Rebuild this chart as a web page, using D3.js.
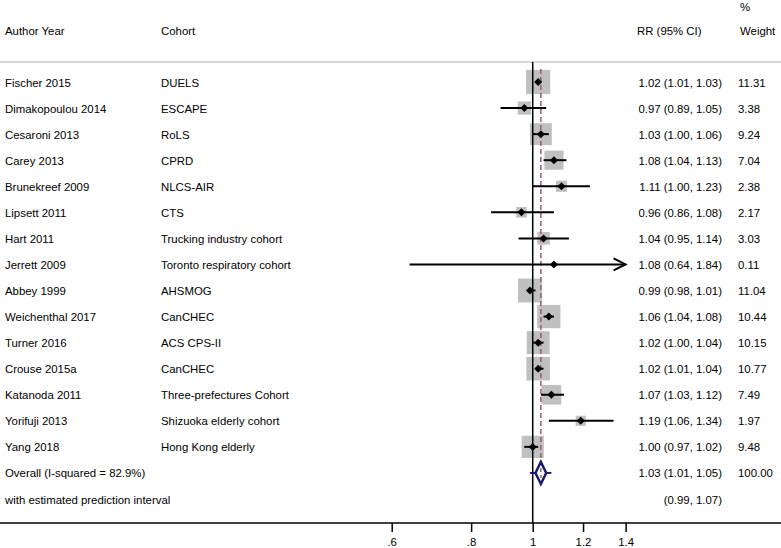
<!DOCTYPE html>
<html>
<head>
<meta charset="utf-8">
<script src="https://cdn.jsdelivr.net/npm/d3@7"></script>
<style>
  body { margin: 0; background: #fff; }
  svg text { font-family: "Liberation Sans", Arial, Helvetica, sans-serif; font-size: 11.4px; fill: #000; }
</style>
</head>
<body>
<div id="chart"></div>
<script>
// study rows, top to bottom
var authors = ["Fischer 2015", "Dimakopoulou 2014", "Cesaroni 2013", "Carey 2013", "Brunekreef 2009",
    "Lipsett 2011", "Hart 2011", "Jerrett 2009", "Abbey 1999", "Weichenthal 2017", "Turner 2016",
    "Crouse 2015a", "Katanoda 2011", "Yorifuji 2013", "Yang 2018"];
var cohorts = ["DUELS", "ESCAPE", "RoLS", "CPRD", "NLCS-AIR", "CTS", "Trucking industry cohort",
    "Toronto respiratory cohort", "AHSMOG", "CanCHEC", "ACS CPS-II", "CanCHEC",
    "Three-prefectures Cohort", "Shizuoka elderly cohort", "Hong Kong elderly"];
var rr = [1.02, 0.97, 1.03, 1.08, 1.11, 0.96, 1.04, 1.08, 0.99, 1.06, 1.02, 1.02, 1.07, 1.19, 1.00];
var lower = [1.01, 0.89, 1.00, 1.04, 1.00, 0.86, 0.95, 0.64, 0.98, 1.04, 1.00, 1.01, 1.03, 1.06, 0.97];
var upper = [1.03, 1.05, 1.06, 1.13, 1.23, 1.08, 1.14, 1.84, 1.01, 1.08, 1.04, 1.04, 1.12, 1.34, 1.02];
var weights = [11.31, 3.38, 9.24, 7.04, 2.38, 2.17, 3.03, 0.11, 11.04, 10.44, 10.15, 10.77, 7.49, 1.97, 9.48];

// pooled estimate
var overall = { label: "Overall (I-squared = 82.9%)", rr: 1.03, lower: 1.01, upper: 1.05, weight: 100 };
var prediction = { label: "with estimated prediction interval", lower: 0.99, upper: 1.07 };

var tickValues = [0.6, 0.8, 1, 1.2, 1.4];
var tickLabels = [".6", ".8", "1", "1.2", "1.4"];

var width = 781, height = 548;
var svg = d3.select("#chart").append("svg")
    .attr("width", width)
    .attr("height", height);

var x = d3.scaleLog().domain([0.6, 1.4]).range([391.7, 625.6]);
var y = d3.scaleLinear().domain([0, 16]).range([82, 499]);
var boxSide = d3.scaleSqrt().domain([0, 1]).range([0, 7.2]);

var fmt = d3.format(".2f");
var data = authors.map(function (a, i) {
    return { author: a, cohort: cohorts[i], rr: rr[i], lower: lower[i], upper: upper[i], weight: weights[i] };
});

var colAuthor = 5, colCohort = 161, colRR = 722, colWeight = 738;
var axisY = 523;

// headers
svg.append("text").attr("x", colAuthor).attr("y", 35).text("Author Year");
svg.append("text").attr("x", colCohort).attr("y", 35).text("Cohort");
svg.append("text").attr("x", 637).attr("y", 35).text("RR (95% CI)");
svg.append("text").attr("x", colWeight + 2).attr("y", 11).text("%");
svg.append("text").attr("x", colWeight + 2).attr("y", 35).text("Weight");

svg.append("line")
    .attr("x1", 0).attr("x2", width).attr("y1", 62).attr("y2", 62)
    .attr("stroke", "#c8c8c8").attr("stroke-width", 1.5);

// weight boxes
svg.selectAll(".box")
    .data(data)
    .enter().append("rect")
    .attr("class", "box")
    .attr("fill", "#c0c0c0")
    .attr("x", function (d) { return x(d.rr) - boxSide(d.weight) / 2; })
    .attr("y", function (d, i) { return y(i) - boxSide(d.weight) / 2; })
    .attr("width", function (d) { return boxSide(d.weight); })
    .attr("height", function (d) { return boxSide(d.weight); });

// null line
svg.append("line")
    .attr("x1", x(1)).attr("x2", x(1)).attr("y1", 62).attr("y2", axisY)
    .attr("stroke", "#000").attr("stroke-width", 1.5);

// pooled estimate line
svg.append("line")
    .attr("x1", x(overall.rr)).attr("x2", x(overall.rr))
    .attr("y1", 69).attr("y2", y(15) + 11)
    .attr("stroke", "#a05a64").attr("stroke-width", 1.5)
    .attr("stroke-dasharray", "5,3");

// confidence intervals
svg.selectAll(".ci")
    .data(data)
    .enter().append("line")
    .attr("class", "ci")
    .attr("stroke", "#000").attr("stroke-width", 2)
    .attr("x1", function (d) { return x(Math.max(d.lower, 0.6)); })
    .attr("x2", function (d) { return x(Math.min(d.upper, 1.4)); })
    .attr("y1", function (d, i) { return y(i); })
    .attr("y2", function (d, i) { return y(i); });

// arrowheads for clipped intervals
data.forEach(function (d, i) {
    if (d.upper > 1.4) {
        var tx = x(1.4), ty = y(i);
        svg.append("path")
            .attr("d", "M" + (tx - 12) + "," + (ty - 6) + "L" + tx + "," + ty + "L" + (tx - 12) + "," + (ty + 6))
            .attr("fill", "none").attr("stroke", "#000").attr("stroke-width", 2);
    }
});

// point estimates
svg.selectAll(".pt")
    .data(data)
    .enter().append("path")
    .attr("class", "pt")
    .attr("fill", "#000")
    .attr("d", function (d, i) {
        var cx = x(d.rr), cy = y(i), r = 4;
        return "M" + (cx - r) + "," + cy + "L" + cx + "," + (cy - r) + "L" + (cx + r) + "," + cy + "L" + cx + "," + (cy + r) + "Z";
    });

// pooled diamond + prediction interval
var oy = y(15);
svg.append("line")
    .attr("x1", x(prediction.lower)).attr("x2", x(prediction.upper))
    .attr("y1", oy).attr("y2", oy)
    .attr("stroke", "#1a1a6a").attr("stroke-width", 2);
svg.append("path")
    .attr("d", "M" + x(overall.lower) + "," + oy + "L" + x(overall.rr) + "," + (oy - 11) +
        "L" + x(overall.upper) + "," + oy + "L" + x(overall.rr) + "," + (oy + 11) + "Z")
    .attr("fill", "#fff").attr("stroke", "#1a1a6a").attr("stroke-width", 2.5);
svg.append("line")
    .attr("x1", x(overall.rr)).attr("x2", x(overall.rr))
    .attr("y1", oy - 5).attr("y2", oy + 5)
    .attr("stroke", "#a05a64").attr("stroke-width", 1.5)
    .attr("stroke-dasharray", "4,3");

// row text
var rows = svg.selectAll(".row")
    .data(data)
    .enter().append("g")
    .attr("class", "row")
    .attr("transform", function (d, i) { return "translate(0," + (y(i) + 4.5) + ")"; });
rows.append("text").attr("x", colAuthor).text(function (d) { return d.author; });
rows.append("text").attr("x", colCohort).text(function (d) { return d.cohort; });
rows.append("text").attr("x", colRR).attr("text-anchor", "end")
    .text(function (d) { return fmt(d.rr) + " (" + fmt(d.lower) + ", " + fmt(d.upper) + ")"; });
rows.append("text").attr("x", colWeight).text(function (d) { return fmt(d.weight); });

svg.append("text").attr("x", colAuthor).attr("y", y(15) + 4.5).text(overall.label);
svg.append("text").attr("x", colRR).attr("y", y(15) + 4.5).attr("text-anchor", "end")
    .text(fmt(overall.rr) + " (" + fmt(overall.lower) + ", " + fmt(overall.upper) + ")");
svg.append("text").attr("x", colWeight).attr("y", y(15) + 4.5).text(fmt(overall.weight));
svg.append("text").attr("x", colAuthor).attr("y", y(16) + 4.5).text(prediction.label);
svg.append("text").attr("x", colRR).attr("y", y(16) + 4.5).attr("text-anchor", "end")
    .text("(" + fmt(prediction.lower) + ", " + fmt(prediction.upper) + ")");

// axis
svg.append("line")
    .attr("x1", 0).attr("x2", width).attr("y1", axisY).attr("y2", axisY)
    .attr("stroke", "#000").attr("stroke-width", 1.5);
var axis = svg.append("g")
    .attr("transform", "translate(0," + axisY + ")")
    .call(d3.axisBottom(x)
        .tickValues(tickValues)
        .tickFormat(function (d, i) { return tickLabels[i]; })
        .tickSize(9)
        .tickPadding(6));
axis.select(".domain").remove();
axis.selectAll(".tick line").attr("stroke", "#000").attr("stroke-width", 1.5);
axis.selectAll(".tick text").attr("font-size", null).attr("font-family", null).attr("fill", "#000");
</script>
</body>
</html>
